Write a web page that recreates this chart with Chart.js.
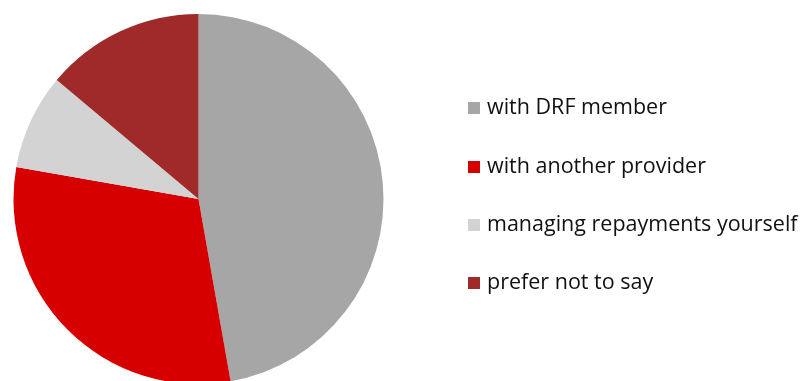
<!DOCTYPE html>
<html>
<head>
<meta charset="utf-8">
<script src="https://cdn.jsdelivr.net/npm/chart.js@4"></script>
<style>
  html, body { margin: 0; padding: 0; background: #fff; overflow: hidden; width: 805px; height: 381px; }
  #wrap { position: absolute; left: 0; top: 0; width: 805px; height: 398px; }
  #legend { position: absolute; left: 468px; top: 0; font-family: "Open Sans", sans-serif; font-size: 21.5px; color: #111; }
  .item { position: absolute; left: 0; white-space: nowrap; height: 24px; line-height: 24px; }
  .box { position: absolute; left: 0; top: 6px; width: 12px; height: 12px; }
  .txt { position: absolute; left: 19px; top: -2px; }
</style>
</head>
<body>
<div id="wrap"><canvas id="pie"></canvas></div>
<div id="legend"></div>
<script>
  const labels = ["with DRF member", "with another provider", "managing repayments yourself", "prefer not to say"];
  const counts = [17, 11, 3, 5];
  const colors = ["#A6A6A6", "#D70000", "#D3D3D3", "#A0292A"];
  const legendTops = [96, 155, 213, 271];

  new Chart(document.getElementById("pie"), {
    type: 'pie',
    data: {
      labels: labels,
      datasets: [{
        data: counts,
        backgroundColor: colors,
        borderWidth: 0
      }]
    },
    options: {
      responsive: true,
      maintainAspectRatio: false,
      animation: false,
      layout: { padding: { left: 13, top: 14, right: 421, bottom: 14 } },
      plugins: {
        legend: { display: false },
        tooltip: { enabled: false }
      }
    }
  });

  // legend on the right, one row per category
  const legend = document.getElementById("legend");
  labels.forEach(function (name, i) {
    const row = document.createElement("div");
    row.className = "item";
    row.style.top = legendTops[i] + "px";
    row.innerHTML = '<span class="box" style="background:' + colors[i] + '"></span><span class="txt">' + name + '</span>';
    legend.appendChild(row);
  });
</script>
</body>
</html>
